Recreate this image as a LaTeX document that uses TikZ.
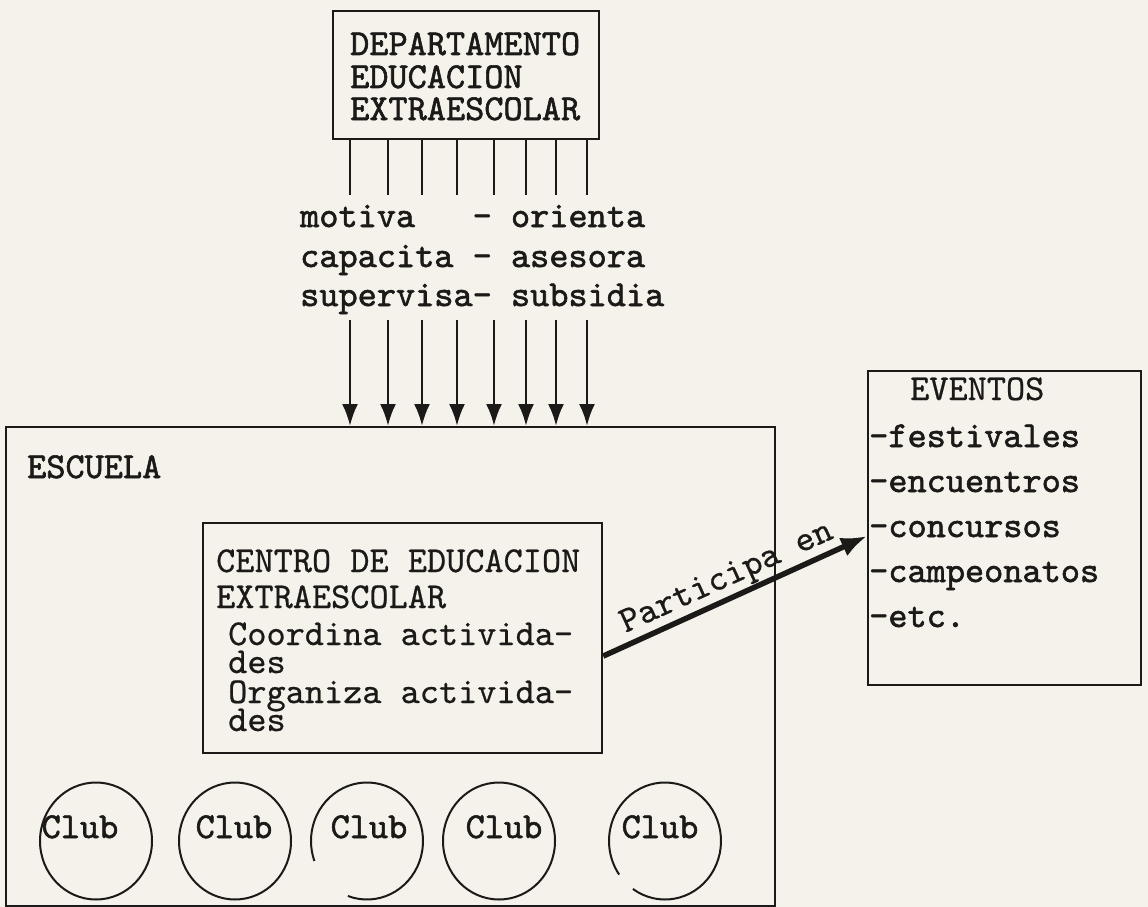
\documentclass[tikz,border=0pt]{standalone}
\usepackage{fontspec}
\usetikzlibrary{arrows.meta,shapes.geometric}
\definecolor{paper}{RGB}{244,242,234}
\definecolor{ink}{RGB}{28,26,24}
\newfontfamily\twheavy{lmmono10-regular.otf}[FakeBold=1.6]
\newfontfamily\twlight{lmmono10-regular.otf}[FakeBold=0.6]
\newcommand\twfont{\twheavy\fontsize{36.5}{40}\selectfont}
\newcommand\twthin{\twlight\fontsize{36.5}{40}\selectfont}
\begin{document}
\begin{tikzpicture}[x=1pt,y=-1pt,
  box/.style={draw=ink,line width=2.2pt,inner sep=0pt,anchor=north west},
  txt/.style={anchor=base west,inner sep=0pt,text=ink,font=\twfont},
  thin/.style={txt,font=\twthin},
  stub/.style={draw=ink,line width=2.6pt},
  down/.style={draw=ink,line width=2.6pt,-{Latex[length=22pt,width=16pt]}},
  big/.style={draw=ink,line width=5.5pt,-{Latex[length=26pt,width=20pt]}},
  club/.style={ellipse,draw=ink,line width=2pt,minimum width=112pt,minimum height=117pt,inner sep=0pt},
  clubopen/.style={ellipse,draw=none,minimum width=112pt,minimum height=117pt,inner sep=0pt},
  arcline/.style={draw=ink,line width=2pt}]
\fill[paper] (0,0) rectangle (1148,907);
\useasboundingbox (0,0) rectangle (1148,907);

% boxes
\node[box,minimum width=266pt,minimum height=128pt] (dept) at (332,10) {};
\node[box,minimum width=769pt,minimum height=479pt] (school) at (5,426) {};
\node[box,minimum width=399pt,minimum height=230pt] (centro) at (202,522) {};
\node[box,minimum width=273pt,minimum height=314pt] (eventos) at (867,370) {};

% department text
\node[txt] (d1) at (350,55) {DEPARTAMENTO};
\node[txt] (d2) at (350,88) {EDUCACION};
\node[txt] (d3) at (350,120) {EXTRAESCOLAR};

% middle text
\node[txt] (m1) at (300,227) {motiva\hphantom{xxx}- orienta};
\node[txt] (m2) at (300,267) {capacita - asesora};
\node[txt] (m3) at (300,306) {supervisa- subsidia};

% stubs and arrows
\foreach \x [count=\i] in {350,388,422,457,494,526,556,587}{
  \coordinate (s\i) at (\x,195);
  \draw[stub] (s\i |- dept.south) -- (s\i);
  \coordinate (a\i) at (\x,320);
  \draw[down] (a\i) -- (a\i |- school.north);
}

% school
\node[txt] (esc) at (27,478) {ESCUELA};

% centro text
\node[thin] (c01) at (216,572) {CENTRO DE EDUCACION};
\node[thin] (c02) at (216,608) {EXTRAESCOLAR};
\node[thin] (c03) at (228,645) {Coordina activida-};
\node[thin] (c04) at (228,673) {des};
\node[thin] (c05) at (228,703) {Organiza activida-};
\node[thin] (c06) at (228,731) {des};

% eventos text
\node[thin] (e0) at (910,400) {EVENTOS};
\node[txt] (e1) at (869,447) {-festivales};
\node[txt] (e2) at (869,492) {-encuentros};
\node[txt] (e3) at (869,537) {-concursos};
\node[txt] (e4) at (869,582) {-campeonatos};
\node[txt] (e5) at (869,627) {-etc.};

% participa en
\draw[big] ([yshift=-18pt]centro.east) -- ([yshift=-8pt]eventos.west)
  node[pos=0.5,above=1pt,sloped,inner sep=0pt,text=ink,font=\twthin] (lab) {Participa en};

% clubs
\node[club] (k1) at (96,841) {};
\node[club] (k2) at (235,841) {};
\node[clubopen] (k3) at (367,841) {};
\node[club] (k4) at (499,841) {};
\node[clubopen] (k5) at (665,841) {};
\draw[arcline] ([shift={(250:56pt and 58.5pt)}]k3.center) arc[start angle=250,end angle=560,x radius=56pt,y radius=58.5pt];
\draw[arcline] ([shift={(235:56pt and 58.5pt)}]k5.center) arc[start angle=235,end angle=575,x radius=56pt,y radius=58.5pt];
\node[txt,anchor=base] (t1) at (80,838) {Club};
\node[txt,anchor=base] (t2) at (234,838) {Club};
\node[txt,anchor=base] (t3) at (369,838) {Club};
\node[txt,anchor=base] (t4) at (504,838) {Club};
\node[txt,anchor=base] (t5) at (660,838) {Club};
\end{tikzpicture}
\end{document}
